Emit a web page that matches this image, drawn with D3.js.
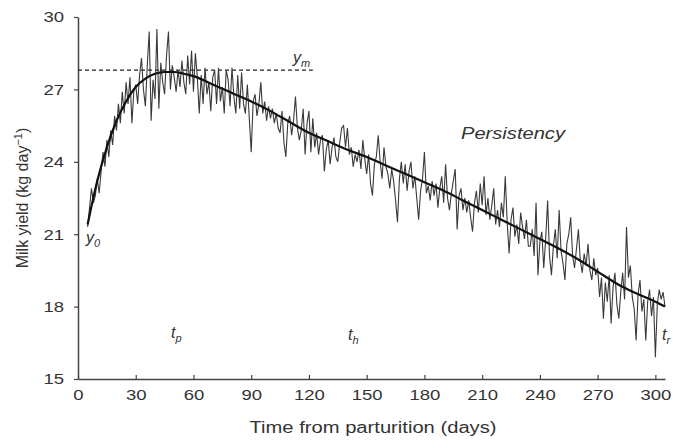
<!DOCTYPE html>
<html>
<head>
<meta charset="utf-8">
<script src="https://cdn.jsdelivr.net/npm/d3@7"></script>
<style>
  body { margin: 0; background: #fff; }
  svg { display: block; }
  text { font-family: "Liberation Sans", Arial, sans-serif; fill: #333; }
</style>
</head>
<body>
<svg id="chart"></svg>
<script>
// Daily test-day milk yield (kg/day), starting at day 5
var firstDay = 5;
var dailyYield = [
  21.3, 22.1, 22.9, 22.3, 22.6, 23.3, 22.7, 23.6, 24.4, 23.8,
  24.9, 24.2, 25.3, 24.7, 25.9, 25.3, 26.4, 25.6, 26.9, 26.0,
  27.3, 26.4, 27.5, 25.6, 26.9, 27.2, 26.4, 27.6, 28.3, 27.0,
  26.3, 28.0, 29.4, 25.7, 27.4, 26.6, 29.5, 26.2, 28.1, 27.3,
  26.8, 28.4, 29.4, 27.0, 28.0, 27.5, 26.9, 27.8, 27.1, 28.2,
  27.3, 26.8, 28.4, 27.2, 28.6, 26.9, 28.5, 27.5, 26.0, 27.6,
  26.4, 27.9, 26.8, 27.3, 26.1, 27.5, 27.8, 26.4, 27.9, 26.5,
  27.1, 26.0, 27.8, 27.4, 26.3, 27.9, 26.7, 26.0, 27.6, 26.2,
  27.7, 26.4, 26.0, 27.2, 25.8, 24.4, 26.5, 26.8, 25.9, 26.4,
  27.3, 26.0, 26.5, 25.7, 26.3, 25.8, 26.2, 25.6, 26.0, 25.4,
  25.2, 26.1, 24.8, 24.2, 25.6, 25.9, 25.1, 25.7, 26.7, 25.4,
  24.9, 25.3, 26.2, 24.3, 25.6, 26.1, 24.4, 25.8, 24.6, 25.2,
  24.3, 24.9, 25.1, 23.6, 24.5, 24.9, 23.9, 24.6, 25.0, 24.2,
  24.0, 24.8, 25.4, 25.5, 24.6, 25.4, 24.3, 24.6, 23.8, 24.3,
  24.0, 24.5, 23.7, 24.9, 24.1, 23.5, 24.3, 23.1, 22.6, 23.9,
  24.2, 25.1, 24.0, 23.3, 24.6, 23.8, 23.5, 22.9, 23.7, 23.2,
  22.4, 21.5, 23.3, 24.0, 23.1, 23.9, 22.8, 23.6, 24.0, 22.9,
  23.4, 22.5, 21.6, 22.8, 23.3, 24.4, 22.7, 23.0, 22.4, 23.2,
  22.6, 23.1, 22.1, 22.9, 23.4, 22.3, 23.9, 22.5, 22.0, 22.7,
  23.2, 23.7, 21.2, 22.6, 22.9, 22.0, 22.5, 21.9, 22.4, 21.7,
  21.1, 22.3, 22.8, 21.9, 23.1, 22.2, 23.4, 21.8, 22.5, 21.6,
  22.2, 22.9, 21.4, 22.0, 21.3, 22.3, 21.7, 23.4, 21.5, 20.2,
  21.6, 22.1, 20.9, 21.4, 20.6, 21.9, 21.3, 20.8, 21.6, 20.5,
  20.5, 21.2, 20.1, 22.3, 19.3, 20.7, 21.1, 19.6, 20.8, 22.4,
  20.1, 19.3, 20.5, 21.2, 20.0, 22.0, 20.3, 19.8, 19.1, 20.6,
  21.0, 21.7, 20.1, 19.6, 20.4, 21.2, 19.9, 19.4, 20.2, 19.7,
  20.6, 19.5, 19.1, 20.0, 19.3, 19.6, 18.4, 19.2, 17.5, 19.0,
  18.2, 19.3, 17.3, 18.8, 19.4, 18.1, 17.5, 18.6, 19.4, 18.3,
  21.3, 19.2, 19.7, 18.4, 17.9, 16.6, 18.5, 19.1, 17.8, 18.3,
  16.6, 18.2, 18.7, 17.6, 18.4, 15.9, 18.1, 18.7, 18.3, 18.6, 18.0
];

// Fitted lactation curve
var fitDays = [5, 10, 15, 20, 25, 30, 35, 40, 45, 50, 55, 60, 70, 80, 90, 100,
  110, 120, 130, 140, 150, 160, 170, 180, 190, 200, 210, 220, 230, 240, 250,
  260, 270, 280, 290, 300, 305];
var fitYield = [21.4, 23.2, 24.6, 25.7, 26.5, 27.1, 27.45, 27.65, 27.72, 27.72,
  27.65, 27.55, 27.2, 26.85, 26.5, 26.1, 25.65, 25.2, 24.85, 24.5, 24.2, 23.85,
  23.5, 23.15, 22.8, 22.4, 22.0, 21.6, 21.2, 20.8, 20.4, 19.95, 19.45,
  18.95, 18.55, 18.2, 18.0];

// Peak yield and the days it spans
var peakYield = 27.8;
var peakLineDays = [0, 122];

var xTicks = [0, 30, 60, 90, 120, 150, 180, 210, 240, 270, 300];
var yTicks = [15, 18, 21, 24, 27, 30];

var width = 673, height = 441;
var margin = { top: 17, right: 8, bottom: 62, left: 78 };

var svg = d3.select('#chart')
  .attr('width', width)
  .attr('height', height);

var xScale = d3.scaleLinear().domain([0, 305]).range([margin.left, width - margin.right]);
var yScale = d3.scaleLinear().domain([15, 30]).range([height - margin.bottom, margin.top]);

// Axes
var xAxis = d3.axisBottom(xScale).tickValues(xTicks).tickSizeInner(-4).tickSizeOuter(0).tickPadding(14);
var yAxis = d3.axisLeft(yScale).tickValues(yTicks).tickSizeInner(4).tickSizeOuter(0).tickPadding(10);

var gx = svg.append('g')
  .attr('transform', 'translate(0,' + yScale(15) + ')')
  .call(xAxis);
var gy = svg.append('g')
  .attr('transform', 'translate(' + xScale(0) + ',0)')
  .call(yAxis);

[gx, gy].forEach(function(g) {
  g.select('.domain').attr('stroke', '#444').attr('stroke-width', 1.5);
  g.selectAll('.tick line').attr('stroke', '#444').attr('stroke-width', 1.2);
  g.selectAll('.tick text')
    .attr('font-size', 15)
    .attr('fill', '#333')
    .attr('textLength', function(d) { return String(d).length * 10.3; })
    .attr('lengthAdjust', 'spacingAndGlyphs');
});
gx.selectAll('.tick text').attr('dy', '0.45em');

// Dashed peak line
svg.append('line')
  .attr('x1', xScale(peakLineDays[0]))
  .attr('x2', xScale(peakLineDays[1]))
  .attr('y1', yScale(peakYield))
  .attr('y2', yScale(peakYield))
  .attr('stroke', '#222')
  .attr('stroke-width', 1.3)
  .attr('stroke-dasharray', '4,3');

// Daily data line
var daily = dailyYield.map(function(v, i) { return { day: firstDay + i, y: v }; });
var line = d3.line()
  .x(function(d) { return xScale(d.day); })
  .y(function(d) { return yScale(d.y); });

svg.append('path')
  .datum(daily)
  .attr('d', line)
  .attr('fill', 'none')
  .attr('stroke', '#3a3a3a')
  .attr('stroke-width', 1.1);

// Fitted curve
var fit = fitDays.map(function(d, i) { return { day: d, y: fitYield[i] }; });
svg.append('path')
  .datum(fit)
  .attr('d', line.curve(d3.curveMonotoneX))
  .attr('fill', 'none')
  .attr('stroke', '#111')
  .attr('stroke-width', 2.2);

// Axis titles
svg.append('text')
  .attr('x', 373)
  .attr('y', 433)
  .attr('text-anchor', 'middle')
  .attr('font-size', 16)
  .attr('textLength', 247)
  .attr('lengthAdjust', 'spacingAndGlyphs')
  .text('Time from parturition (days)');

var yTitle = svg.append('text')
  .attr('transform', 'translate(28,198) rotate(-90)')
  .attr('text-anchor', 'middle')
  .attr('font-size', 16);
yTitle.append('tspan').text('Milk yield (kg day');
yTitle.append('tspan').attr('font-size', 11).attr('dy', -6).text('\u22121');
yTitle.append('tspan').attr('dy', 6).text(')');

// Annotations
function subLabel(x, y, main, sub) {
  var t = svg.append('text')
    .attr('x', x).attr('y', y)
    .attr('font-size', 16)
    .attr('font-style', 'italic');
  t.append('tspan').text(main);
  t.append('tspan').attr('font-size', 11).attr('dy', 4).text(sub);
}
subLabel(293, 63, 'y', 'm');
subLabel(86, 243, 'y', '0');
subLabel(171, 338, 't', 'p');
subLabel(348, 340, 't', 'h');
subLabel(662, 340, 't', 'r');

svg.append('text')
  .attr('x', 461)
  .attr('y', 139)
  .attr('font-size', 17)
  .attr('font-style', 'italic')
  .attr('textLength', 104)
  .attr('lengthAdjust', 'spacingAndGlyphs')
  .text('Persistency');
</script>
</body>
</html>
